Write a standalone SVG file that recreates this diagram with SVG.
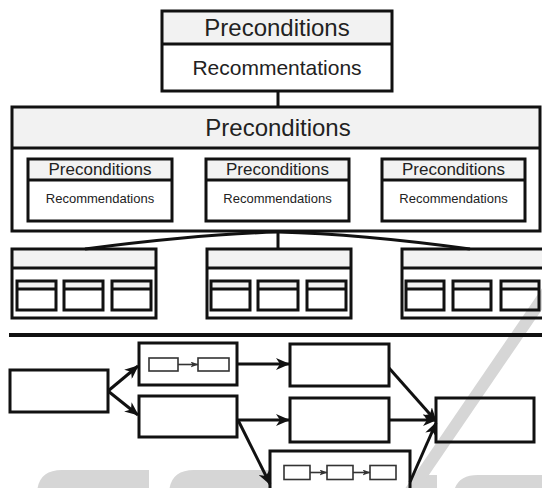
<svg xmlns="http://www.w3.org/2000/svg" width="542" height="488" viewBox="0 0 542 488">
<style>
.box{fill:none;stroke:#111;stroke-width:3}
.wbox{fill:#fff;stroke:#111;stroke-width:3}
.hdr{fill:#f2f2f2;stroke:none}
.div{stroke:#111;stroke-width:3}
.con{fill:none;stroke:#111;stroke-width:3}
.thin{fill:none;stroke:#333;stroke-width:1.6}
.wm{fill:#d6d6d6}
text{font-family:"Liberation Sans",Arial,sans-serif;fill:#222;text-anchor:middle}
.t24{font-size:24px}
.t21{font-size:21px}
.t17{font-size:17px}
.t13{font-size:13px}
</style>
<defs>
<marker id="ah" markerUnits="userSpaceOnUse" viewBox="0 0 14 12" markerWidth="14" markerHeight="12" refX="13" refY="6" orient="auto">
<path d="M0,0 L14,6 L0,12 L4,6 Z" fill="#111"/>
</marker>
<marker id="ahs" markerUnits="userSpaceOnUse" viewBox="0 0 8 6" markerWidth="8" markerHeight="6" refX="7.5" refY="3" orient="auto">
<path d="M0,0 L8,3 L0,6 L2,3 Z" fill="#333"/>
</marker>
</defs>

<g id="watermark">
<path class="wm" d="M37,492 L149,492 L149,470 L62,470 Q37,470 37,495 Z"/>
<path class="wm" d="M169,492 L270,492 L270,470 L194,470 Q169,470 169,495 Z"/>
<rect class="wm" x="410" y="475" width="27" height="17"/>
<path class="wm" d="M453,492 L545,492 L545,475 L478,475 Q453,475 453,500 Z"/>
<line x1="548" y1="290" x2="410" y2="492" stroke="#d6d6d6" stroke-width="12"/>
</g>

<g id="top-node">
<rect class="hdr" x="162" y="11" width="230" height="33"/>
<rect class="box" x="162" y="11" width="230" height="80"/>
<line class="div" x1="162" y1="44" x2="392" y2="44"/>
<text class="t24" x="277" y="36">Preconditions</text>
<text class="t21" x="277" y="75">Recommentations</text>
</g>

<g id="big-node">
<rect class="hdr" x="12" y="107" width="528" height="41"/>
<rect class="box" x="12" y="107" width="528" height="124"/>
<line class="div" x1="12" y1="148" x2="540" y2="148"/>
<text class="t24" x="278" y="136">Preconditions</text>
</g>

<g id="inner-left">
<rect class="hdr" x="28" y="159" width="144" height="21"/>
<rect class="box" x="28" y="159" width="144" height="62"/>
<line class="div" x1="28" y1="180" x2="172" y2="180"/>
<text class="t17" x="100" y="175">Preconditions</text>
<text class="t13" x="100" y="203">Recommendations</text>
</g>
<g id="inner-mid">
<rect class="hdr" x="206" y="159" width="143" height="21"/>
<rect class="box" x="206" y="159" width="143" height="62"/>
<line class="div" x1="206" y1="180" x2="349" y2="180"/>
<text class="t17" x="277.5" y="175">Preconditions</text>
<text class="t13" x="277.5" y="203">Recommendations</text>
</g>
<g id="inner-right">
<rect class="hdr" x="382" y="159" width="143" height="21"/>
<rect class="box" x="382" y="159" width="143" height="62"/>
<line class="div" x1="382" y1="180" x2="525" y2="180"/>
<text class="t17" x="453.5" y="175">Preconditions</text>
<text class="t13" x="453.5" y="203">Recommendations</text>
</g>

<g id="group-left">
<rect class="hdr" x="12" y="249" width="144" height="19"/>
<rect class="box" x="12" y="249" width="144" height="69"/>
<line class="div" x1="12" y1="268" x2="156" y2="268"/>
<rect class="hdr" x="17" y="281" width="39" height="8"/><rect class="box" x="17" y="281" width="39" height="29"/><line class="div" x1="17" y1="289" x2="56" y2="289"/>
<rect class="hdr" x="64" y="281" width="39" height="8"/><rect class="box" x="64" y="281" width="39" height="29"/><line class="div" x1="64" y1="289" x2="103" y2="289"/>
<rect class="hdr" x="112" y="281" width="39" height="8"/><rect class="box" x="112" y="281" width="39" height="29"/><line class="div" x1="112" y1="289" x2="151" y2="289"/>
</g>
<g id="group-mid">
<rect class="hdr" x="207" y="249" width="144" height="19"/>
<rect class="box" x="207" y="249" width="144" height="69"/>
<line class="div" x1="207" y1="268" x2="351" y2="268"/>
<rect class="hdr" x="211" y="281" width="39" height="8"/><rect class="box" x="211" y="281" width="39" height="29"/><line class="div" x1="211" y1="289" x2="250" y2="289"/>
<rect class="hdr" x="258" y="281" width="40" height="8"/><rect class="box" x="258" y="281" width="40" height="29"/><line class="div" x1="258" y1="289" x2="298" y2="289"/>
<rect class="hdr" x="307" y="281" width="39" height="8"/><rect class="box" x="307" y="281" width="39" height="29"/><line class="div" x1="307" y1="289" x2="346" y2="289"/>
</g>
<g id="group-right">
<rect class="hdr" x="402" y="249" width="144" height="19"/>
<rect class="box" x="402" y="249" width="144" height="69"/>
<line class="div" x1="402" y1="268" x2="546" y2="268"/>
<rect class="hdr" x="406" y="281" width="38" height="8"/><rect class="box" x="406" y="281" width="38" height="29"/><line class="div" x1="406" y1="289" x2="444" y2="289"/>
<rect class="hdr" x="453" y="281" width="38" height="8"/><rect class="box" x="453" y="281" width="38" height="29"/><line class="div" x1="453" y1="289" x2="491" y2="289"/>
<rect class="hdr" x="501" y="281" width="38" height="8"/><rect class="box" x="501" y="281" width="38" height="29"/><line class="div" x1="501" y1="289" x2="539" y2="289"/>
</g>

<g id="separator">
<line x1="9" y1="335" x2="542" y2="335" stroke="#111" stroke-width="4"/>
</g>

<g id="node-L"><rect class="box" x="10" y="370" width="98" height="42"/></g>
<g id="node-A">
<rect class="box" x="139" y="343" width="98" height="42"/>
<rect class="thin" x="149" y="358" width="29" height="13"/>
<rect class="thin" x="198" y="358" width="31" height="13"/>
</g>
<g id="node-B"><rect class="box" x="139" y="396" width="98" height="41"/></g>
<g id="node-C"><rect class="box" x="290" y="344" width="99" height="42"/></g>
<g id="node-D"><rect class="box" x="290" y="398" width="99" height="44"/></g>
<g id="node-E">
<rect class="box" x="270" y="451" width="140" height="50"/>
<rect class="thin" x="284" y="465.5" width="26" height="14"/>
<rect class="thin" x="327" y="465.5" width="26" height="14"/>
<rect class="thin" x="370" y="465.5" width="26" height="14"/>
</g>
<g id="node-F"><rect class="box" x="436" y="398" width="98" height="44"/></g>

<g id="connectors">
<line class="con" x1="278" y1="91" x2="278" y2="107"/>
<line class="con" x1="278" y1="231" x2="278" y2="249"/>
<path class="con" d="M278,232 Q200,234 85,249"/>
<path class="con" d="M278,232 Q360,234 470,249"/>
<line class="con" x1="108" y1="391" x2="138" y2="366" marker-end="url(#ah)"/>
<line class="con" x1="108" y1="391" x2="138" y2="415" marker-end="url(#ah)"/>
<line class="con" x1="238" y1="364" x2="289" y2="364" marker-end="url(#ah)"/>
<line class="con" x1="238" y1="420" x2="289" y2="420" marker-end="url(#ah)"/>
<line class="con" x1="238" y1="420" x2="270" y2="484" marker-end="url(#ah)"/>
<line class="con" x1="389" y1="368" x2="436" y2="421" marker-end="url(#ah)"/>
<line class="con" x1="389" y1="420" x2="436" y2="420" marker-end="url(#ah)"/>
<line class="con" x1="410" y1="482" x2="436" y2="423" marker-end="url(#ah)"/>
<line class="thin" x1="178" y1="364.5" x2="198" y2="364.5" marker-end="url(#ahs)"/>
<line class="thin" x1="310" y1="472.5" x2="327" y2="472.5" marker-end="url(#ahs)"/>
<line class="thin" x1="353" y1="472.5" x2="370" y2="472.5" marker-end="url(#ahs)"/>
</g>
</svg>
